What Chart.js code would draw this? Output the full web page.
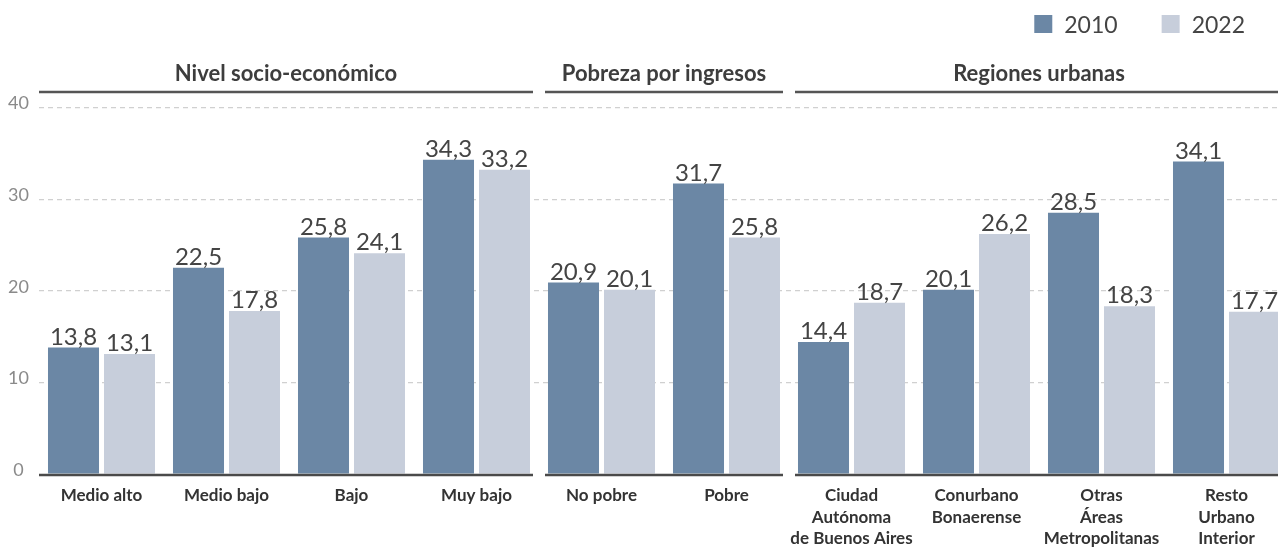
<!DOCTYPE html>
<html>
<head>
<meta charset="utf-8">
<script src="https://cdn.jsdelivr.net/npm/chart.js@4"></script>
<style>
  body { margin: 0; background: #fff; }
  #wrap { width: 1278px; height: 548px; overflow: hidden; }
</style>
</head>
<body>
<div id="wrap"><canvas id="chart" width="1290" height="548"></canvas></div>
<script>
const labels = [
  'Medio alto', 'Medio bajo', 'Bajo', 'Muy bajo',
  'No pobre', 'Pobre',
  ['Ciudad', 'Autónoma', 'de Buenos Aires'],
  ['Conurbano', 'Bonaerense'],
  ['Otras', 'Áreas', 'Metropolitanas'],
  ['Resto', 'Urbano', 'Interior']
];
const serie2010 = [13.8, 22.5, 25.8, 34.3, 20.9, 31.7, 14.4, 20.1, 28.5, 34.1];
const serie2022 = [13.1, 17.8, 24.1, 33.2, 20.1, 25.8, 18.7, 26.2, 18.3, 17.7];
const sectionNames = ['Nivel socio-económico', 'Pobreza por ingresos', 'Regiones urbanas'];
const sectionSizes = [4, 2, 4];

const FONT = 'Lato, "Noto Sans", sans-serif';

// headers over each group + broken baseline + legend + value labels
const decoPlugin = {
  id: 'deco',
  afterDatasetsDraw(chart) {
    const {ctx, chartArea, scales: {x, y}} = chart;
    const slot = x.width / labels.length;
    const base = y.getPixelForValue(0);

    ctx.save();
    // values on top of bars
    ctx.font = '24px ' + FONT;
    ctx.fillStyle = '#444';
    ctx.textAlign = 'center';
    ctx.textBaseline = 'alphabetic';
    chart.data.datasets.forEach((ds, i) => {
      chart.getDatasetMeta(i).data.forEach((bar, j) => {
        ctx.fillText(ds.data[j].toFixed(1).replace('.', ','), bar.x, bar.y - 3);
      });
    });

    let start = 0;
    sectionSizes.forEach((n, i) => {
      const left = x.getPixelForValue(start) - slot / 2;
      const right = x.getPixelForValue(start + n - 1) + slot / 2;
      const x1 = i === 0 ? left : left + 6;
      const x2 = right - 6;
      ctx.strokeStyle = '#555';
      ctx.lineWidth = 2.5;
      ctx.beginPath();
      ctx.moveTo(x1, chartArea.top - 15.5);
      ctx.lineTo(x2, chartArea.top - 15.5);
      ctx.stroke();
      ctx.strokeStyle = '#4a4a4a';
      ctx.beginPath();
      ctx.moveTo(x1, base + 1);
      ctx.lineTo(x2, base + 1);
      ctx.stroke();
      ctx.font = 'bold 22px ' + FONT;
      ctx.fillStyle = '#3d3d3d';
      ctx.fillText(sectionNames[i], (x1 + x2) / 2, chartArea.top - 27);
      start += n;
    });

    // legend, top right
    ctx.font = '23px ' + FONT;
    ctx.textAlign = 'left';
    const items = chart.data.datasets;
    const widths = items.map(d => 30 + ctx.measureText(d.label).width);
    let cx = 1245 - widths.reduce((a, b) => a + b, 0) - 44 * (items.length - 1);
    items.forEach((d, i) => {
      ctx.fillStyle = d.backgroundColor;
      ctx.fillRect(cx, 15, 18, 18);
      ctx.fillStyle = '#444';
      ctx.fillText(d.label, cx + 30, 33);
      cx += widths[i] + 44;
    });
    ctx.restore();
  }
};

function draw() {
  new Chart(document.getElementById('chart'), {
    type: 'bar',
    data: {
      labels: labels,
      datasets: [
        { label: '2010', data: serie2010, backgroundColor: '#6b87a5' },
        { label: '2022', data: serie2022, backgroundColor: '#c7cedb' }
      ]
    },
    options: {
      responsive: false,
      animation: false,
      categoryPercentage: 0.896,
      barPercentage: 0.911,
      layout: { padding: { top: 107.5, right: 1, left: 0, bottom: 0 } },
      plugins: { legend: { display: false }, tooltip: { enabled: false } },
      scales: {
        x: {
          grid: { display: false, drawTicks: false },
          border: { display: false },
          ticks: {
            padding: 10.5,
            color: '#333',
            maxRotation: 0,
            autoSkip: false,
            font: { family: FONT, size: 17, weight: 'bold', lineHeight: 1.28 }
          },
          afterFit(scale) { scale.height = 74; }
        },
        y: {
          min: 0,
          max: 40,
          ticks: {
            stepSize: 10,
            padding: 10,
            crossAlign: 'center',
            labelOffset: -4,
            color: '#8a8a8a',
            font: { family: FONT, size: 18 }
          },
          grid: {
            drawTicks: false,
            lineWidth: 1.2,
            color: c => c.tick && c.tick.value === 0 ? 'rgba(0,0,0,0)' : '#d0d0d0'
          },
          border: { display: false, dash: [5, 4] },
          afterFit(scale) { scale.width = 39; }
        }
      }
    },
    plugins: [decoPlugin]
  });
}

Promise.all([
  document.fonts.load('22px Lato'),
  document.fonts.load('bold 19px Lato')
]).then(draw, draw);
</script>
</body>
</html>
